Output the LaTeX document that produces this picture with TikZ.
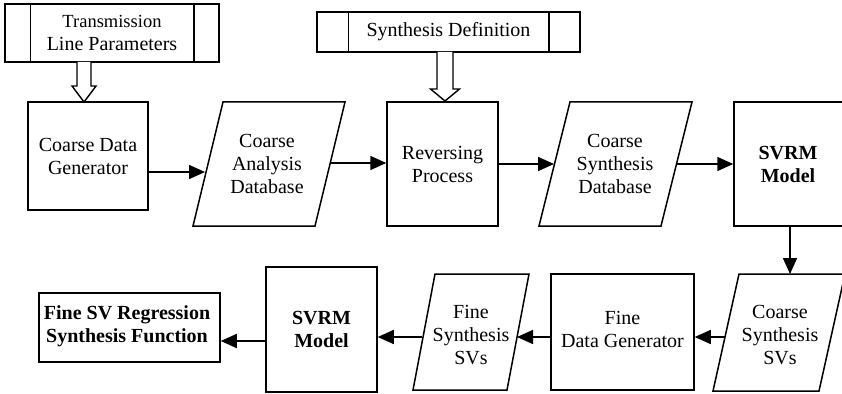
\documentclass[tikz,border=0pt]{standalone}
\usepackage{fontspec}
\setmainfont{Liberation Serif}
\usetikzlibrary{arrows.meta}
\begin{document}
\begin{tikzpicture}[x=1pt,y=-1pt,
  every node/.style={font=\fontsize{20}{23}\selectfont, align=center, inner sep=0pt},
  box/.style={draw, line width=1.5pt, rectangle},
  arr/.style={line width=1.6pt, -{Triangle[length=16pt,width=14pt]}},
  hollow/.style={draw, line width=1.4pt, fill=white, line join=miter},
  para/.style={draw, line width=1.5pt, line join=miter},
  sep/.style={line width=1.5pt}
]
\useasboundingbox (0,0) rectangle (842,393);

% input blocks (predefined process)
\node[box, minimum width=214pt, minimum height=58pt] (tlp) at (112,33) {};
\draw[sep] ([xshift=26pt]tlp.north west) -- ([xshift=26pt]tlp.south west);
\draw[sep] ([xshift=-26pt]tlp.north east) -- ([xshift=-26pt]tlp.south east);
\node (tlpt) at (112,33) {{\fontsize{18.5}{23}\selectfont Transmission}\\Line Parameters};

\node[box, minimum width=263pt, minimum height=40pt] (sd) at (448.5,32) {};
\draw[sep] ([xshift=32pt]sd.north west) -- ([xshift=32pt]sd.south west);
\draw[sep] ([xshift=-32pt]sd.north east) -- ([xshift=-32pt]sd.south east);
\node (sdt) at (448.5,32) {Synthesis Definition};

% top row
\node[box, minimum width=120pt, minimum height=108pt] (cdg) at (88,156) {Coarse Data\\Generator};
\draw[para] (223,102) -- (345,102) -- (315,226) -- (193,226) -- cycle;
\node (cad) at (267,164) {Coarse\\Analysis\\Database};
\node[box, minimum width=111pt, minimum height=124pt] (rp) at (442.5,164) {Reversing\\Process};
\draw[para] (570,102) -- (692,102) -- (661,226) -- (539,226) -- cycle;
\node (csd) at (615,164) {Coarse\\Synthesis\\Database};
\node[box, minimum width=111pt, minimum height=124pt] (svrm1) at (789.5,164) {};
\node (svrm1t) at (788,164) {\textbf{SVRM}\\\textbf{Model}};

% bottom row
\draw[para] (739,274) -- (845,274) -- (819,391) -- (713,391) -- cycle;
\node (cssv) at (780,335) {Coarse\\Synthesis\\SVs};
\node[box, minimum width=143pt, minimum height=116pt] (fdg) at (622.5,332) {};
\node (fdgt) at (622.5,329) {Fine\\Data Generator};
\draw[para] (435,274) -- (529,274) -- (507,390) -- (413,390) -- cycle;
\node (fssv) at (471,335) {Fine\\Synthesis\\SVs};
\node[box, minimum width=111pt, minimum height=125pt] (svrm2) at (321.5,329.5) {\textbf{SVRM}\\\textbf{Model}};
\node[box, minimum width=181pt, minimum height=69pt] (fsr) at (129.5,327.5) {};
\node (fsrt) at (127,326) {\textbf{Fine SV Regression}\\\textbf{Synthesis Function}};

% hollow arrows
\draw[hollow] (77,62) -- (77,86) -- (72,86) -- (84,102) -- (96,86) -- (91,86) -- (91,62);
\draw[hollow] (437,52) -- (437,89) -- (430.5,89) -- (445,101) -- (459.5,89) -- (453,89) -- (453,52);

% connector end points on slanted sides
\coordinate (cadL) at (205,172);
\coordinate (cadR) at (330,163);
\coordinate (csdL) at (554,164);
\coordinate (csdR) at (677,164);
\coordinate (cssvT) at (790,274);
\coordinate (cssvL) at (725,337);
\coordinate (fssvR) at (517,337);
\coordinate (fssvL) at (422,337);

\draw[arr] (cdg.east |- cadL) -- (cadL);
\draw[arr] (cadR) -- (rp.west |- cadR);
\draw[arr] (rp.east |- csdL) -- (csdL);
\draw[arr] (csdR) -- (svrm1.west |- csdR);
\draw[arr] (svrm1.south -| cssvT) -- (cssvT);
\draw[arr] (cssvL) -- (fdg.east |- cssvL);
\draw[arr] (fdg.west |- fssvR) -- (fssvR);
\draw[arr] (fssvL) -- (svrm2.east |- fssvL);
\draw[arr] (svrm2.west |- 0,341) -- (fsr.east |- 0,341);
\end{tikzpicture}
\end{document}
